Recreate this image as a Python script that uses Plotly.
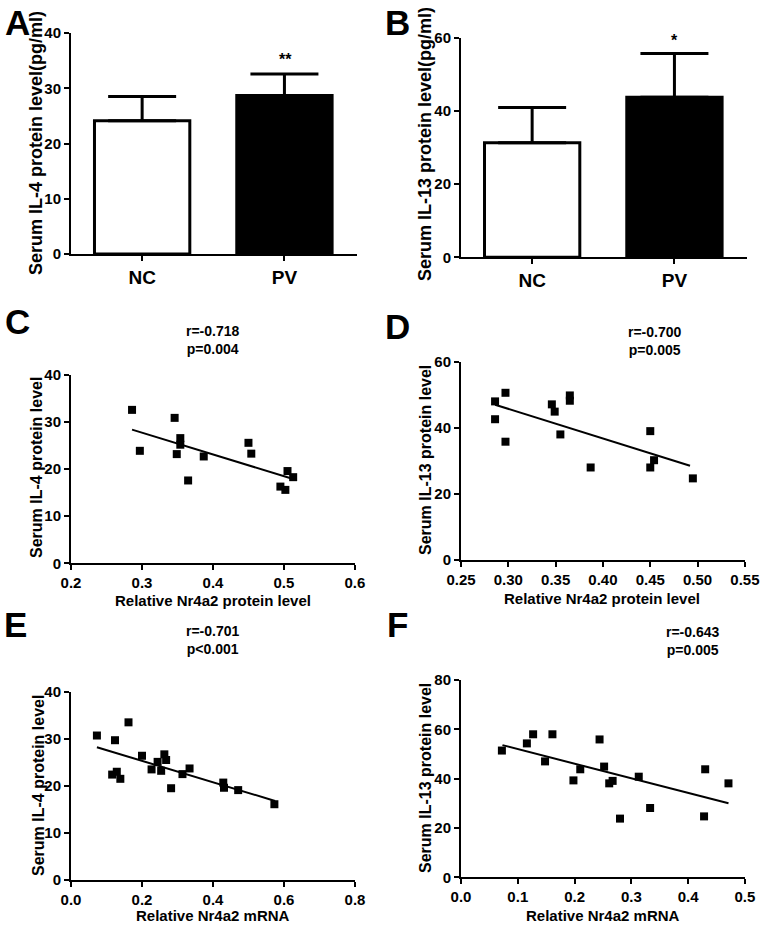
import plotly.graph_objects as go

# ---------------- data ----------------
groups = ["NC", "PV"]
il4_mean = [24.1, 28.7]
il4_sd = [4.4, 3.9]
il13_mean = [31.3, 43.7]
il13_sd = [9.6, 12.0]
sig_a = "**"
sig_b = "*"

# C: Nr4a2 protein vs IL-4
c_x = [0.286, 0.297, 0.346, 0.349, 0.354, 0.354, 0.365, 0.387, 0.450, 0.454, 0.495, 0.502, 0.505, 0.513]
c_y = [32.6, 23.9, 30.9, 23.2, 26.6, 25.2, 17.6, 22.7, 25.6, 23.3, 16.3, 15.6, 19.6, 18.3]
c_fit_x = [0.286, 0.513]
c_fit_y = [28.4, 17.9]
c_stat = "r=-0.718<br>p=0.004"

# D: Nr4a2 protein vs IL-13
d_x = [0.286, 0.286, 0.297, 0.297, 0.346, 0.349, 0.355, 0.365, 0.365, 0.387, 0.450, 0.450, 0.454, 0.495]
d_y = [48.0, 42.6, 50.6, 35.8, 47.1, 44.9, 38.0, 49.8, 48.2, 28.0, 39.0, 28.0, 30.2, 24.7]
d_fit_x = [0.286, 0.492]
d_fit_y = [47.0, 28.5]
d_stat = "r=-0.700<br>p=0.005"

# E: Nr4a2 mRNA vs IL-4
e_x = [0.073, 0.124, 0.162, 0.116, 0.129, 0.139, 0.200, 0.227, 0.244, 0.254, 0.263, 0.268, 0.282, 0.314, 0.334, 0.429, 0.431, 0.471, 0.573]
e_y = [30.7, 29.7, 33.5, 22.4, 23.0, 21.5, 26.4, 23.5, 25.1, 23.2, 26.7, 25.5, 19.5, 22.5, 23.7, 20.7, 19.6, 19.1, 16.1]
e_fit_x = [0.073, 0.575]
e_fit_y = [28.2, 16.8]
e_stat = "r=-0.701<br>p<0.001"

# F: Nr4a2 mRNA vs IL-13
f_x = [0.072, 0.116, 0.127, 0.148, 0.161, 0.198, 0.210, 0.244, 0.252, 0.261, 0.267, 0.280, 0.313, 0.333, 0.428, 0.430, 0.471]
f_y = [51.4, 54.3, 58.0, 47.0, 58.0, 39.3, 43.8, 55.9, 44.9, 38.1, 39.1, 23.8, 40.8, 28.1, 24.7, 43.8, 38.1]
f_fit_x = [0.073, 0.471]
f_fit_y = [53.6, 30.0]
f_stat = "r=-0.643<br>p=0.005"

y_titles = ["Serum IL-4 protein level(pg/ml)", "Serum IL-13 protein level(pg/ml)",
            "Serum IL-4 protein level", "Serum IL-13 protein level",
            "Serum IL-4 protein level", "Serum IL-13 protein level"]
x_titles = ["Relative Nr4a2 protein level", "Relative Nr4a2 protein level",
            "Relative Nr4a2 mRNA", "Relative Nr4a2 mRNA"]

# ---------------- figure ----------------
W, H = 770, 930
FONT = "Liberation Sans, Arial, sans-serif"

def dx(a, b):
    return [a / W, b / W]

def dy(top, bottom):
    return [1 - bottom / H, 1 - top / H]

def fnt(size):
    return dict(family=FONT, size=size, color="black", weight="bold")

fig = go.Figure()

for means, sds, xa, ya in [(il4_mean, il4_sd, "x", "y"), (il13_mean, il13_sd, "x2", "y2")]:
    fig.add_trace(go.Bar(
        x=groups, y=means, xaxis=xa, yaxis=ya, width=0.67,
        marker=dict(color=["white", "black"], line=dict(color="black", width=3)),
        error_y=dict(type="data", symmetric=False, array=sds, arrayminus=[0, 0],
                     color="black", thickness=3, width=34),
        showlegend=False,
    ))

scatters = [
    (c_x, c_y, c_fit_x, c_fit_y, "x3", "y3"),
    (d_x, d_y, d_fit_x, d_fit_y, "x4", "y4"),
    (e_x, e_y, e_fit_x, e_fit_y, "x5", "y5"),
    (f_x, f_y, f_fit_x, f_fit_y, "x6", "y6"),
]
for sx, sy, fx, fy, xa, ya in scatters:
    fig.add_trace(go.Scatter(x=sx, y=sy, mode="markers", xaxis=xa, yaxis=ya,
                             marker=dict(symbol="square", size=8, color="black"),
                             showlegend=False, cliponaxis=False))
    fig.add_trace(go.Scatter(x=fx, y=fy, mode="lines", xaxis=xa, yaxis=ya,
                             line=dict(color="black", width=2),
                             showlegend=False))

def axis_common(size):
    return dict(showline=True, linecolor="black", linewidth=2, ticks="outside",
                ticklen=5, tickwidth=2, tickcolor="black", showgrid=False,
                zeroline=False, automargin=False, tickfont=fnt(size))

layout = dict(
    width=W, height=H, margin=dict(l=0, r=0, t=0, b=0, autoexpand=False),
    paper_bgcolor="white", plot_bgcolor="white", showlegend=False,
)

layout["xaxis"] = dict(axis_common(19), domain=dx(71, 357), anchor="y",
                       range=[-0.5, 1.51], type="category")
layout["yaxis"] = dict(axis_common(15), domain=dy(33, 254), anchor="x",
                       range=[0, 40], dtick=10)
layout["xaxis2"] = dict(axis_common(19), domain=dx(461, 747), anchor="y2",
                        range=[-0.5, 1.51], type="category")
layout["yaxis2"] = dict(axis_common(15), domain=dy(37.7, 257.3), anchor="x2",
                        range=[0, 60], dtick=20)
layout["xaxis3"] = dict(axis_common(15), domain=dx(71, 355), anchor="y3",
                        range=[0.2, 0.6001], dtick=0.1, tick0=0.2, tickformat=".1f")
layout["yaxis3"] = dict(axis_common(15), domain=dy(375, 563.3), anchor="x3",
                        range=[0, 40.01], dtick=10)
layout["xaxis4"] = dict(axis_common(15), domain=dx(461, 745), anchor="y4",
                        range=[0.25, 0.5501], dtick=0.05, tick0=0.25, tickformat=".2f")
layout["yaxis4"] = dict(axis_common(15), domain=dy(361.7, 560), anchor="x4",
                        range=[0, 60.01], dtick=20)
layout["xaxis5"] = dict(axis_common(15), domain=dx(71, 355), anchor="y5",
                        range=[0, 0.8001], dtick=0.2, tickformat=".1f")
layout["yaxis5"] = dict(axis_common(15), domain=dy(691.7, 880), anchor="x5",
                        range=[0, 40.01], dtick=10)
layout["xaxis6"] = dict(axis_common(15), domain=dx(461, 745), anchor="y6",
                        range=[0, 0.5001], dtick=0.1, tickformat=".1f")
layout["yaxis6"] = dict(axis_common(15), domain=dy(680, 877.3), anchor="x6",
                        range=[0, 80.01], dtick=20)

fig.update_layout(**layout)

ann = []
def paper_text(text, px, py, size, angle=0):
    ann.append(dict(x=px / W, y=1 - py / H, xref="paper", yref="paper", text=text,
                    showarrow=False, xanchor="center", yanchor="middle",
                    textangle=angle, font=fnt(size)))

# significance marks (above PV bars)
paper_text(sig_a, 285, 59, 16)
paper_text(sig_b, 674, 41, 16)

# y-axis titles
y_title_pos = [(36, 143, 18), (425, 144, 18), (37, 468, 16), (425, 460, 16), (38, 786, 16), (425, 778, 16)]
for t, (px, py, s) in zip(y_titles, y_title_pos):
    paper_text(t, px, py, s, angle=-90)

# x-axis titles
x_title_pos = [(213, 600), (602, 598), (213, 915), (603, 915)]
for t, (px, py) in zip(x_titles, x_title_pos):
    paper_text(t, px, py, 15)

# stats
stat_pos = [(c_stat, 0.40, 340, "x3"), (d_stat, 0.455, 341, "x4"),
            (e_stat, 0.401, 659, "x5"), (f_stat, 0.409, 660, "x6")]
for txt, xv, ypx, xa in stat_pos:
    ann.append(dict(x=xv, y=1 - ypx / H, xref=xa, yref="paper", text=txt, showarrow=False,
                    align="center", font=fnt(14)))

# panel letters
letters = [("A", 17, 22), ("B", 397, 22), ("C", 17, 322), ("D", 397, 326), ("E", 15, 624), ("F", 397, 624)]
for t, px, py in letters:
    paper_text(t, px, py, 35)

fig.update_layout(annotations=ann)

fig.write_html("out.html", config={"displayModeBar": False},
               post_script="document.body.style.margin='0';document.body.style.overflow='hidden';")
